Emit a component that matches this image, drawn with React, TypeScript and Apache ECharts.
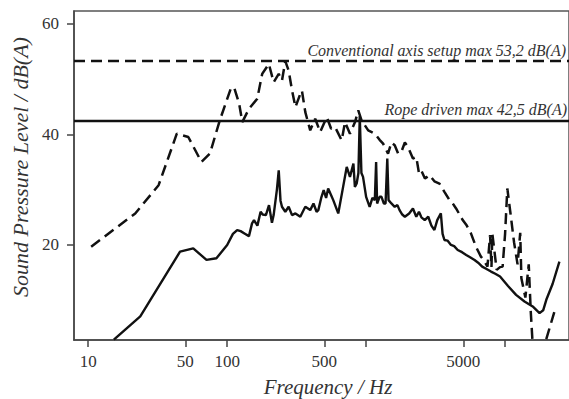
import React, { useEffect, useRef } from "react";
import * as echarts from "echarts";

// Conventional axis setup (dashed) – frequency in Hz and level in dB(A)
const convFreq = [
  10.5, 21.8, 32.1, 43.4, 52.5, 65.3, 75.1, 88.5, 107, 113, 122, 128.5, 143.5, 164.6, 178.6, 199.5,
  216, 235, 248, 262, 277, 293, 310, 336, 345, 365, 396, 430, 467, 521, 560, 598, 667, 705, 765, 832,
  878, 927, 1035, 1155, 1250, 1325, 1438, 1520, 1606, 1700, 1792, 1900, 2000, 2172, 2296, 2400, 2490,
  2650, 2858, 3100, 3370, 3660, 3980, 4200, 4440, 4955, 5300, 5680, 6170, 6700, 7000, 7470, 7800,
  7980, 8100, 8700, 9200, 9600, 10000, 10380, 10900, 11600, 12300, 12850, 13100, 14000, 14800, 15300,
  15800, 17000, 18500, 19730, 23000,
];
const convLevel = [
  19.7, 25.7, 30.8, 40.1, 39.5, 35.0, 36.5, 42.5, 48.5, 48.2, 45.5, 42.2, 44.6, 46.4, 50.9, 52.7,
  49.4, 50.9, 49.7, 53.2, 51.5, 47.9, 44.9, 47.3, 47.9, 44.0, 40.7, 42.8, 40.4, 43.1, 41.0, 41.3, 38.9,
  42.2, 40.1, 42.2, 44.3, 42.5, 40.7, 40.1, 39.0, 38.3, 36.5, 38.5, 38.0, 36.5, 36.8, 38.5, 37.7, 35.6,
  35.9, 33.0, 33.5, 32.0, 32.6, 31.5, 31.1, 29.6, 28.1, 27.5, 26.6, 24.5, 23.5, 22.1, 19.7, 17.9, 17.3,
  16.1, 21.8, 16.0, 22.0, 15.5, 16.0, 16.1, 22.0, 30.2, 26.0, 20.5, 16.5, 22.2, 14.0, 10.5, 16.5, 8.0,
  2.0, 0.0, 0.0, 2.9, 8.5,
];

// Rope driven (solid)
const ropeFreq = [
  15.3, 23.7, 45.8, 57, 71, 83.7, 100, 110, 118, 125, 135, 143.5, 151, 156, 165, 174, 180, 190, 200,
  210, 216, 228, 235, 242, 248, 262, 277, 293, 310, 336, 350, 365, 396, 418, 440, 453, 475, 495, 515,
  533, 560, 580, 630, 683, 725, 765, 810, 830, 855, 880, 900, 925, 950, 1000, 1060, 1110, 1155, 1180,
  1200, 1250, 1290, 1340, 1380, 1420, 1450, 1520, 1606, 1680, 1740, 1820, 1900, 2040, 2172, 2296, 2400,
  2500, 2640, 2800, 2950, 3100, 3250, 3450, 3550, 3660, 3850, 4080, 4300, 4560, 4900, 5250, 5600, 6030,
  6400, 6840, 7300, 7920, 8500, 9200, 10500, 12000, 13800, 15800, 17700, 18800, 19800, 22000, 24600,
];
const ropeLevel = [
  2.9, 7.1, 18.8, 19.4, 17.3, 17.6, 20.0, 22.0, 22.7, 22.5, 22.0, 21.6, 23.9, 24.5, 23.5, 26.0, 25.5,
  25.4, 27.2, 24.0, 25.4, 30.0, 33.5, 28.0, 26.9, 26.0, 26.9, 25.4, 25.7, 25.1, 26.0, 26.9, 26.3, 27.5,
  26.0, 26.3, 28.5, 29.9, 28.5, 30.2, 29.0, 28.1, 25.7, 30.5, 34.1, 32.3, 34.7, 30.5, 31.1, 33.0, 43.3,
  33.0, 32.3, 28.7, 26.9, 28.5, 28.1, 35.0, 27.5, 28.7, 28.7, 27.5, 27.5, 35.6, 28.1, 27.5, 26.9, 27.2,
  26.3, 25.5, 25.1, 25.7, 26.6, 25.1, 26.0, 25.0, 24.5, 25.1, 23.5, 22.7, 24.5, 25.7, 22.0, 20.9, 20.8,
  20.0, 19.8, 19.1, 18.7, 18.2, 17.8, 17.3, 16.8, 16.1, 15.7, 15.2, 14.8, 14.3, 12.6, 11.0, 9.8, 8.9,
  7.7, 8.2, 10.1, 13.0, 17.0,
];

const xTickHz = [10, 50, 100, 500, 1000, 5000, 10000];
const xLabelHz = [10, 50, 100, 500, 5000];
const yTicks = [20, 40, 60];

const convMax = 53.2;
const ropeMax = 42.5;

const FONT = "'Liberation Serif', 'DejaVu Serif', serif";
const INK = "#111";

export default function App() {
  const ref = useRef<HTMLDivElement>(null);
  useEffect(() => {
    if (!ref.current) return;
    const chart = echarts.init(ref.current, undefined, { renderer: "svg" });
    const toPts = (f: number[], v: number[]) => f.map((hz, i) => [Math.log10(hz), v[i]]);
    chart.setOption({
      animation: false,
      backgroundColor: "#fff",
      grid: { left: 74, top: 11, width: 498, height: 329, show: true, borderColor: "#555", borderWidth: 1.5 },
      xAxis: {
        type: "value",
        min: 0.8977,
        max: 4.46,
        axisLine: { show: true, lineStyle: { color: "#444", width: 1.5 } },
        axisTick: { show: true, length: 7, customValues: xTickHz.map((v) => Math.log10(v)), lineStyle: { color: "#444", width: 1.5 } },
        axisLabel: {
          customValues: xLabelHz.map((v) => Math.log10(v)),
          formatter: (v: number) => String(Math.round(Math.pow(10, v))),
          fontFamily: FONT,
          fontSize: 17,
          color: "#333",
          margin: 13,
        },
        splitLine: { show: false },
      },
      yAxis: {
        type: "value",
        min: 2.84,
        max: 62.26,
        axisLine: { show: true, lineStyle: { color: "#444", width: 1.5 } },
        axisTick: { show: true, length: 7, customValues: yTicks, lineStyle: { color: "#444", width: 1.5 } },
        axisLabel: { customValues: yTicks, fontFamily: FONT, fontSize: 17, color: "#333", margin: 15 },
        splitLine: { show: false },
      },
      series: [
        {
          type: "line",
          data: toPts(convFreq, convLevel),
          symbol: "none",
          clip: true,
          lineStyle: { color: INK, width: 2.5, type: [11, 6] },
          markLine: {
            silent: true,
            symbol: "none",
            label: { show: false },
            lineStyle: { color: INK, width: 2.3, type: [11, 6] },
            data: [{ yAxis: convMax }],
          },
        },
        {
          type: "line",
          data: toPts(ropeFreq, ropeLevel),
          symbol: "none",
          clip: true,
          lineStyle: { color: INK, width: 2.4, type: "solid" },
          markLine: {
            silent: true,
            symbol: "none",
            label: { show: false },
            lineStyle: { color: INK, width: 2.3, type: "solid" },
            data: [{ yAxis: ropeMax }],
          },
        },
      ],
      graphic: [
        {
          type: "text",
          x: 20,
          y: 167,
          rotation: Math.PI / 2,
          style: {
            text: "Sound Pressure Level / dB(A)",
            font: `italic 22px ${FONT}`,
            fill: "#333",
            textAlign: "center",
            textVerticalAlign: "middle",
          },
        },
        {
          type: "text",
          x: 328,
          y: 387,
          style: {
            text: "Frequency / Hz",
            font: `italic 21px ${FONT}`,
            fill: "#333",
            textAlign: "center",
            textVerticalAlign: "middle",
          },
        },
        {
          type: "text",
          x: 566,
          y: 50,
          style: {
            text: "Conventional axis setup max 53,2 dB(A)",
            font: `italic 16px ${FONT}`,
            fill: "#333",
            textAlign: "right",
            textVerticalAlign: "middle",
          },
        },
        {
          type: "text",
          x: 567,
          y: 109,
          style: {
            text: "Rope driven max 42,5 dB(A)",
            font: `italic 16px ${FONT}`,
            fill: "#333",
            textAlign: "right",
            textVerticalAlign: "middle",
          },
        },
      ],
    });
    return () => chart.dispose();
  }, []);
  return <div ref={ref} style={{ position: "fixed", left: 0, top: 0, width: 569, height: 399 }} />;
}
